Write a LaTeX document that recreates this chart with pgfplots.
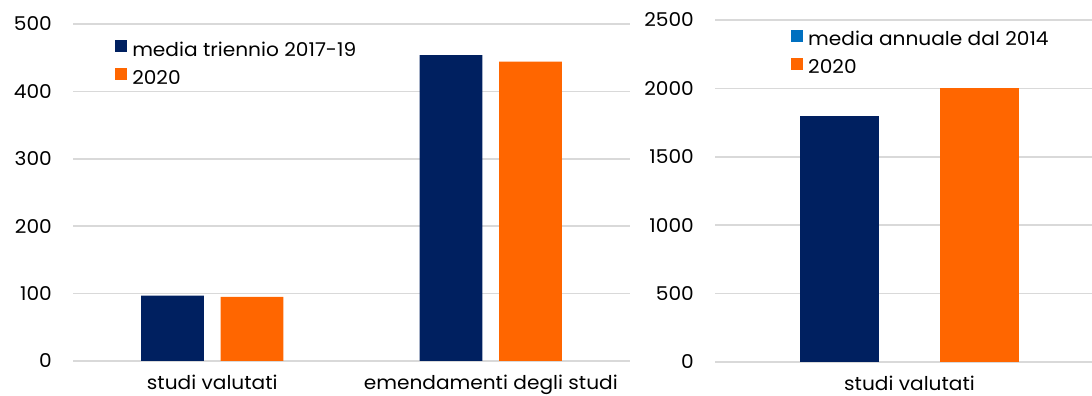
\documentclass[border=0pt]{standalone}
\usepackage{pgfplots}
\pgfplotsset{compat=1.18}
\usepackage{fontspec}
\setmainfont[FakeStretch=1.06]{Poppins}
\definecolor{navy}{HTML}{002060}
\definecolor{orng}{HTML}{FF6600}
\definecolor{lblue}{HTML}{0070C0}
\definecolor{gridc}{HTML}{D9D9D9}
\pgfplotsset{
  mybase/.style={
    scale only axis,
    anchor=south west,
    ybar,
    axis line style={draw=none},
    major tick length=0pt,
    ymajorgrids,
    grid style={gridc, line width=1.5bp},
    xtick=data,
    ymin=0,
    font=\fontsize{19bp}{22bp}\selectfont,
    /pgf/number format/assume math mode=true,
    /pgf/number format/1000 sep={},
    yticklabel style={anchor=east, inner sep=0pt, xshift=-21bp},
    xticklabel style={anchor=base, inner sep=0pt, yshift=-28.5bp},
    legend cell align=left,
    legend style={draw=none, fill=none, inner sep=0pt, anchor=north west,
      row sep=6bp,
      nodes={inner sep=0pt, text height=14bp, text depth=6bp, font=\fontsize{19bp}{22bp}\selectfont},
      /tikz/every odd column/.append style={column sep=5bp}},
  },
  sq/.style={legend image code/.code={\fill[##1] (0bp,0bp) rectangle (12bp,12bp);}},
}
\begin{document}
\begin{tikzpicture}
\useasboundingbox (0,0) rectangle (1092bp,396bp);
\begin{axis}[mybase,
  at={(73bp,35bp)},
  width=557bp, height=337bp,
  xmin=-0.5, xmax=1.5,
  ymax=500, ytick={0,100,...,500},
  xticklabels={studi valutati, emendamenti degli studi},
  bar width=0.226,
  legend style={at={(axis cs:-0.349,476.5)}},
]
\addlegendimage{sq, fill=navy, draw=none}
\addlegendentry{media triennio 2017-19}
\addlegendimage{sq, fill=orng, draw=none}
\addlegendentry{2020}
\addplot[fill=navy, draw=none, bar shift=-0.1427, forget plot] coordinates {(0,97) (1,454)};
\addplot[fill=orng, draw=none, bar shift=0.1427, forget plot] coordinates {(0,95) (1,444)};
\end{axis}
\begin{axis}[mybase,
  at={(715bp,34bp)},
  width=389bp, height=342bp,
  xmin=-0.5, xmax=0.5,
  ymax=2500, ytick={0,500,...,2500},
  xticklabels={studi valutati},
  bar width=0.203,
  legend style={at={(axis cs:-0.3046,2430)}},
]
\addlegendimage{sq, fill=lblue, draw=none}
\addlegendentry{media annuale dal 2014}
\addlegendimage{sq, fill=orng, draw=none}
\addlegendentry{2020}
\addplot[fill=navy, draw=none, bar shift=-0.18, forget plot] coordinates {(0,1798)};
\addplot[fill=orng, draw=none, bar shift=0.18, forget plot] coordinates {(0,2003)};
\end{axis}
\end{tikzpicture}
\end{document}
